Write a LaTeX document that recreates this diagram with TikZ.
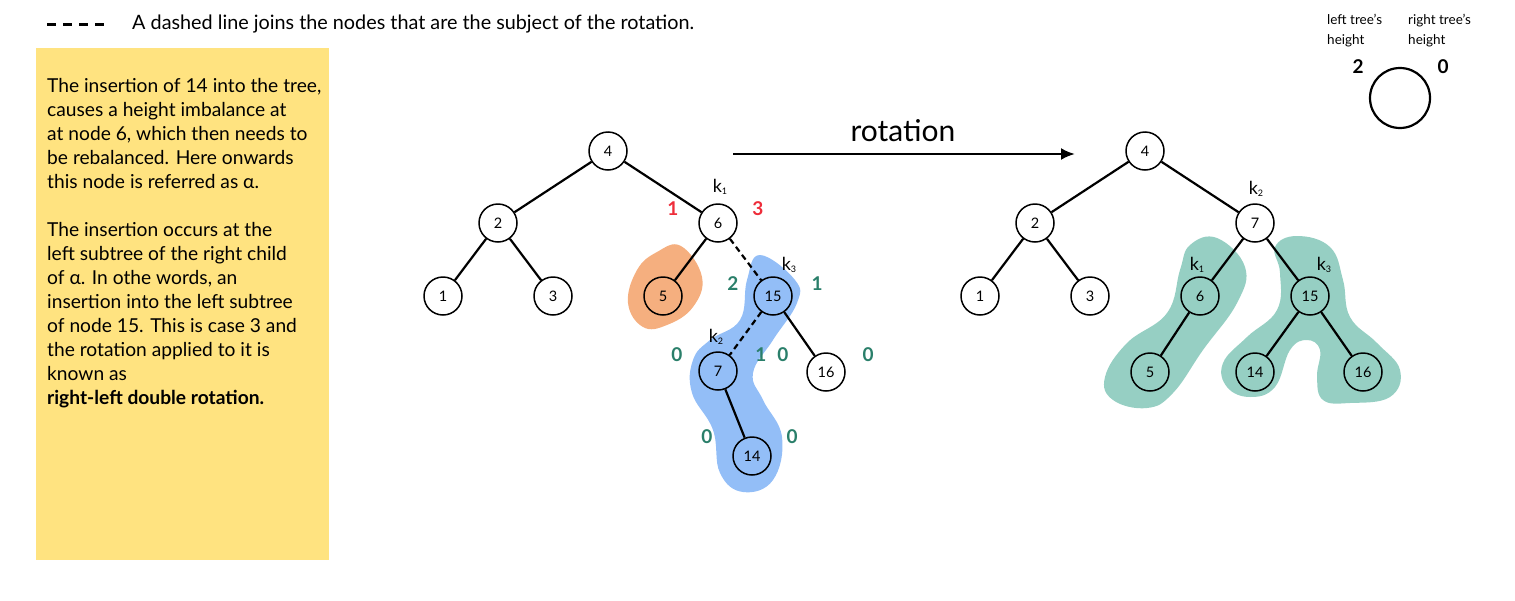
\documentclass[tikz,border=0pt]{standalone}
\usepackage{fontspec}
\setmainfont{Lato}
\usetikzlibrary{arrows.meta}
\definecolor{boxyellow}{HTML}{FFE380}
\definecolor{blobblue}{HTML}{93BEF7}
\definecolor{bloborange}{HTML}{F5AF7F}
\definecolor{blobgreen}{HTML}{96CFC3}
\definecolor{numred}{HTML}{EE2D3A}
\definecolor{numgreen}{HTML}{2A7F6A}
\newcommand{\ksub}[1]{k\raisebox{-2.5pt}{\fontsize{9}{9}\selectfont #1}}
\begin{document}
\begin{tikzpicture}[x=1pt,y=-1pt,
  tn/.style={circle,draw,line width=1.5pt,minimum size=38pt,inner sep=0pt,font=\fontsize{14.5}{14.5}\selectfont},
  edge/.style={line width=2.2pt},
  dedge/.style={line width=2.2pt,dash pattern=on 6pt off 4pt},
  rnum/.style={text=numred,font=\bfseries\fontsize{19}{19}\selectfont},
  gnum/.style={text=numgreen,font=\bfseries\fontsize{19}{19}\selectfont},
  klab/.style={font=\fontsize{18}{18}\selectfont},
  blob/.style={smooth cycle,tension=0.7}]
\useasboundingbox (0,0) rectangle (1515,600);
% legend
\coordinate (l1) at (47,24);
\coordinate (l2) at (104,24);
\draw[line width=3pt,dash pattern=on 9pt off 7pt] (l1) -- (l2);
\node[anchor=west,font=\fontsize{19.8}{19.8}\selectfont,inner sep=0pt] (legtxt) at (132,24) {A dashed line joins the nodes that are the subject of the rotation.};
% yellow box
\fill[boxyellow] (36,48) rectangle (329,560);
\node[anchor=north west,align=left,inner sep=0pt,font=\fontsize{19.2}{24}\selectfont] (info) at (47,78) {The insertion of 14 into the tree,\\causes a height imbalance at\\at node 6, which then needs to\\be rebalanced. Here onwards\\this node is referred as α.\\[24pt]The insertion occurs at the\\left subtree of the right child\\of α. In othe words, an\\insertion into the left subtree\\of node 15. This is case 3 and\\the rotation applied to it is\\known as\\\textbf{right-left double rotation.}};
% blobs left
\fill[bloborange] plot[blob] coordinates {(681,246) (702,277) (693,307) (667,325) (643,327) (628,303) (637,270) (657,252)};
\fill[blobblue] plot[blob] coordinates {(760,255) (795,280) (797,303) (773,340) (753,373) (763,400) (782,437) (773,480) (743,492) (720,473) (713,430) (692,393) (693,360) (710,340) (740,320) (747,280)};
% blobs right
\fill[blobgreen] plot[blob] coordinates {(1217,238) (1245,267) (1237,303) (1203,350) (1173,393) (1147,408) (1113,400) (1105,377) (1127,343) (1167,313) (1180,270) (1190,245)};
\fill[blobgreen] plot[blob] coordinates {(1297,236) (1330,247) (1343,280) (1350,317) (1377,343) (1400,370) (1390,397) (1350,403) (1323,400) (1317,377) (1320,350) (1307,340) (1290,350) (1275,387) (1250,397) (1227,387) (1223,363) (1247,337) (1277,310) (1280,273) (1275,247)};
% left tree
\node[tn] (a4) at (608,151) {4};
\node[tn] (a2) at (498,223) {2};
\node[tn] (a6) at (718,223) {6};
\node[tn] (a1) at (443,296) {1};
\node[tn] (a3) at (553,296) {3};
\node[tn] (a5) at (663,296) {5};
\node[tn] (a15) at (773,296) {15};
\node[tn] (a7) at (718,371) {7};
\node[tn] (a16) at (826,372) {16};
\node[tn] (a14) at (752,456) {14};
\draw[edge] (a4) -- (a2);
\draw[edge] (a4) -- (a6);
\draw[edge] (a2) -- (a1);
\draw[edge] (a2) -- (a3);
\draw[edge] (a6) -- (a5);
\draw[dedge] (a6) -- (a15);
\draw[dedge] (a15) -- (a7);
\draw[edge] (a15) -- (a16);
\draw[edge] (a7) -- (a14);
% left labels
\node[klab] (ka1) at (720,187) {\ksub{1}};
\node[klab] (ka3) at (789,265) {\ksub{3}};
\node[klab] (ka2) at (716,337) {\ksub{2}};
\node[rnum] (r1) at (673,209) {1};
\node[rnum] (r3) at (758,209) {3};
\node[gnum] (g15l) at (733,284) {2};
\node[gnum] (g15r) at (817,284) {1};
\node[gnum] (g7l) at (677,355) {0};
\node[gnum] (g7r) at (761,355) {1};
\node[gnum] (g16l) at (783,355) {0};
\node[gnum] (g16r) at (868,355) {0};
\node[gnum] (g14l) at (707,437) {0};
\node[gnum] (g14r) at (792,437) {0};
% arrow
\coordinate (arrS) at (733,154);
\coordinate (arrE) at (1075,154);
\draw[line width=2.5pt,-{Latex[length=14pt,width=12pt]}] (arrS) -- (arrE);
\node[font=\fontsize{30}{30}\selectfont] (rot) at (903,131) {rotation};
% right tree
\node[tn] (b4) at (1145,151) {4};
\node[tn] (b2) at (1035,223) {2};
\node[tn] (b7) at (1255,223) {7};
\node[tn] (b1) at (980,296) {1};
\node[tn] (b3) at (1090,296) {3};
\node[tn] (b6) at (1200,296) {6};
\node[tn] (b15) at (1310,296) {15};
\node[tn] (b5) at (1150,372) {5};
\node[tn] (b14) at (1255,372) {14};
\node[tn] (b16) at (1363,372) {16};
\draw[edge] (b4) -- (b2);
\draw[edge] (b4) -- (b7);
\draw[edge] (b2) -- (b1);
\draw[edge] (b2) -- (b3);
\draw[edge] (b7) -- (b6);
\draw[edge] (b7) -- (b15);
\draw[edge] (b6) -- (b5);
\draw[edge] (b15) -- (b14);
\draw[edge] (b15) -- (b16);
\node[klab] (kb2) at (1256,189) {\ksub{2}};
\node[klab] (kb1) at (1197,265) {\ksub{1}};
\node[klab] (kb3) at (1324,265) {\ksub{3}};
% height legend
\node[circle,draw,line width=2.2pt,minimum size=60pt,inner sep=0pt] (hc) at (1400,98) {};
\node[anchor=west,align=left,font=\fontsize{13.5}{20}\selectfont,inner sep=0pt] (lth) at (1327,31) {left tree's\\height};
\node[anchor=west,align=left,font=\fontsize{13.5}{20}\selectfont,inner sep=0pt] (rth) at (1408,31) {right tree's\\height};
\node[font=\bfseries\fontsize{19}{19}\selectfont] (hl) at (1358,67) {2};
\node[font=\bfseries\fontsize{19}{19}\selectfont] (hr) at (1443,67) {0};
\end{tikzpicture}
\end{document}
